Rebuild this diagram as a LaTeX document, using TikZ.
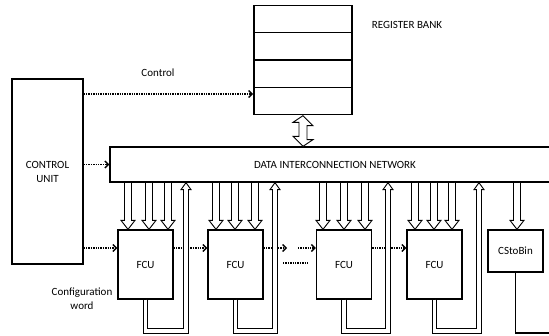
\documentclass[tikz,border=0pt]{standalone}
\usepackage{fontspec}
\setmainfont{Carlito}
\usetikzlibrary{matrix}
\usetikzlibrary{calc}
\usetikzlibrary{arrows.meta}

\begin{document}
\begin{tikzpicture}[x=1pt,y=-1pt,font=\fontsize{11}{14}\selectfont]

\tikzset{box/.style={draw, line width=1.3pt, inner sep=0pt, align=center},
  ctrl/.style={densely dotted, line width=1.4pt,
    -{Straight Barb[length=3.5pt,width=7pt]}},
  fat/.style={double, double distance=5.5pt, line width=0.9pt},
  thinfat/.style={double, double distance=3.5pt, line width=0.9pt},
  head/.style={line width=0.9pt, line join=miter},
  bank cells/.style={matrix of nodes, nodes in empty cells,
    row sep=-1.3pt, inner sep=0pt,
    nodes={draw, line width=1.3pt, minimum width=98pt,
      minimum height=27.4pt, inner sep=0pt}
  }
}

\useasboundingbox (0,0) rectangle (549,336);
\clip (0,0) rectangle (549,336);

% register bank
\matrix[bank cells] (bank) at (303,60) { {} \\ {} \\ {} \\ {} \\ };
\node (regtxt) at (407,25) {REGISTER BANK};

% main blocks
\node[box, minimum width=71pt, minimum height=185pt] (cu) at (47.5,171.5) {CONTROL\\UNIT};
\node[box, minimum width=450pt, minimum height=35pt] (net) at (335,164.5) {DATA INTERCONNECTION NETWORK};
\node[box, minimum width=55pt, minimum height=69pt] (fcuA) at (145.5,264.5) {FCU};
\node[box, minimum width=55pt, minimum height=69pt] (fcuB) at (235.5,264.5) {FCU};
\node[box, minimum width=55pt, minimum height=69pt] (fcuC) at (344,264.5) {FCU};
\node[box, minimum width=55pt, minimum height=69pt] (fcuD) at (434.5,264.5) {FCU};
\node[box, minimum width=55pt, minimum height=42pt] (csb) at (515.5,251) {CStoBin};

\node (ctltxt) at (158,73) {Control};
\node[align=center] (cfgtxt) at (82,299) {Configuration\\word};

% control signals
\draw[ctrl] (cu.east |- 0,94) -- (bank.west |- 0,94);
\draw[ctrl] (cu.east |- net.west) -- (net.west);
\draw[ctrl] (cu.east |- 0,248) -- (fcuA.west |- 0,248);
\draw[ctrl] (fcuA.east |- 0,248) -- (fcuB.west |- 0,248);
\coordinate (gapA) at (287,248);
\coordinate (gapB) at (298,248);
\draw[ctrl] (fcuB.east |- gapA) -- (gapA);
\draw[ctrl] (gapB) -- (fcuC.west |- gapB);
\coordinate (dotsL) at (283,263);
\coordinate (dotsR) at (308,263);
\draw[densely dotted, line width=1.4pt] (dotsL) -- (dotsR);
\draw[ctrl] (fcuC.east |- 0,248) -- (fcuD.west |- 0,248);

% bank <-> network
\draw[head, fill=white] (bank.south) -- ++(10,10) -- ++(-6,0) -- ++(0,14) -- ++(6,0)
  -- (net.north -| bank.south) -- ++(-10,-10) -- ++(6,0) -- ++(0,-14) -- ++(-6,0) -- cycle;

% network -> units
\foreach \n/\xs in {fcuA/{128,149,168}, fcuB/{216,235,255}, fcuC/{323,344,365},
  fcuD/{415,434,452}, csb/{517}} {
  \foreach \x in \xs {
    \draw[fat] (net.south -| \x,0) -- ($(\n.north -| \x,0)+(0,-9)$);
    \draw[head] ($(\n.north -| \x,0)+(-3.2,-9)$) -- ++(-3.8,0) -- (\n.north -| \x,0)
      -- ++(7,-9) -- ++(-3.8,0);
  }
}

% units -> network
\foreach \n/\x in {fcuA/186, fcuB/275, fcuC/388, fcuD/479} {
  \draw[thinfat] (\n.south) |- (\x,331) -- ($(net.south -| \x,0)+(0,7)$);
  \draw[head] ($(net.south -| \x,0)+(-2.2,7)$) -- ++(-2.8,0) -- (net.south -| \x,0)
    -- ++(5,7) -- ++(-2.8,0);
}

\coordinate (out) at (560,333);
\draw[line width=1.3pt] (csb.south) |- (out);

\end{tikzpicture}
\end{document}
